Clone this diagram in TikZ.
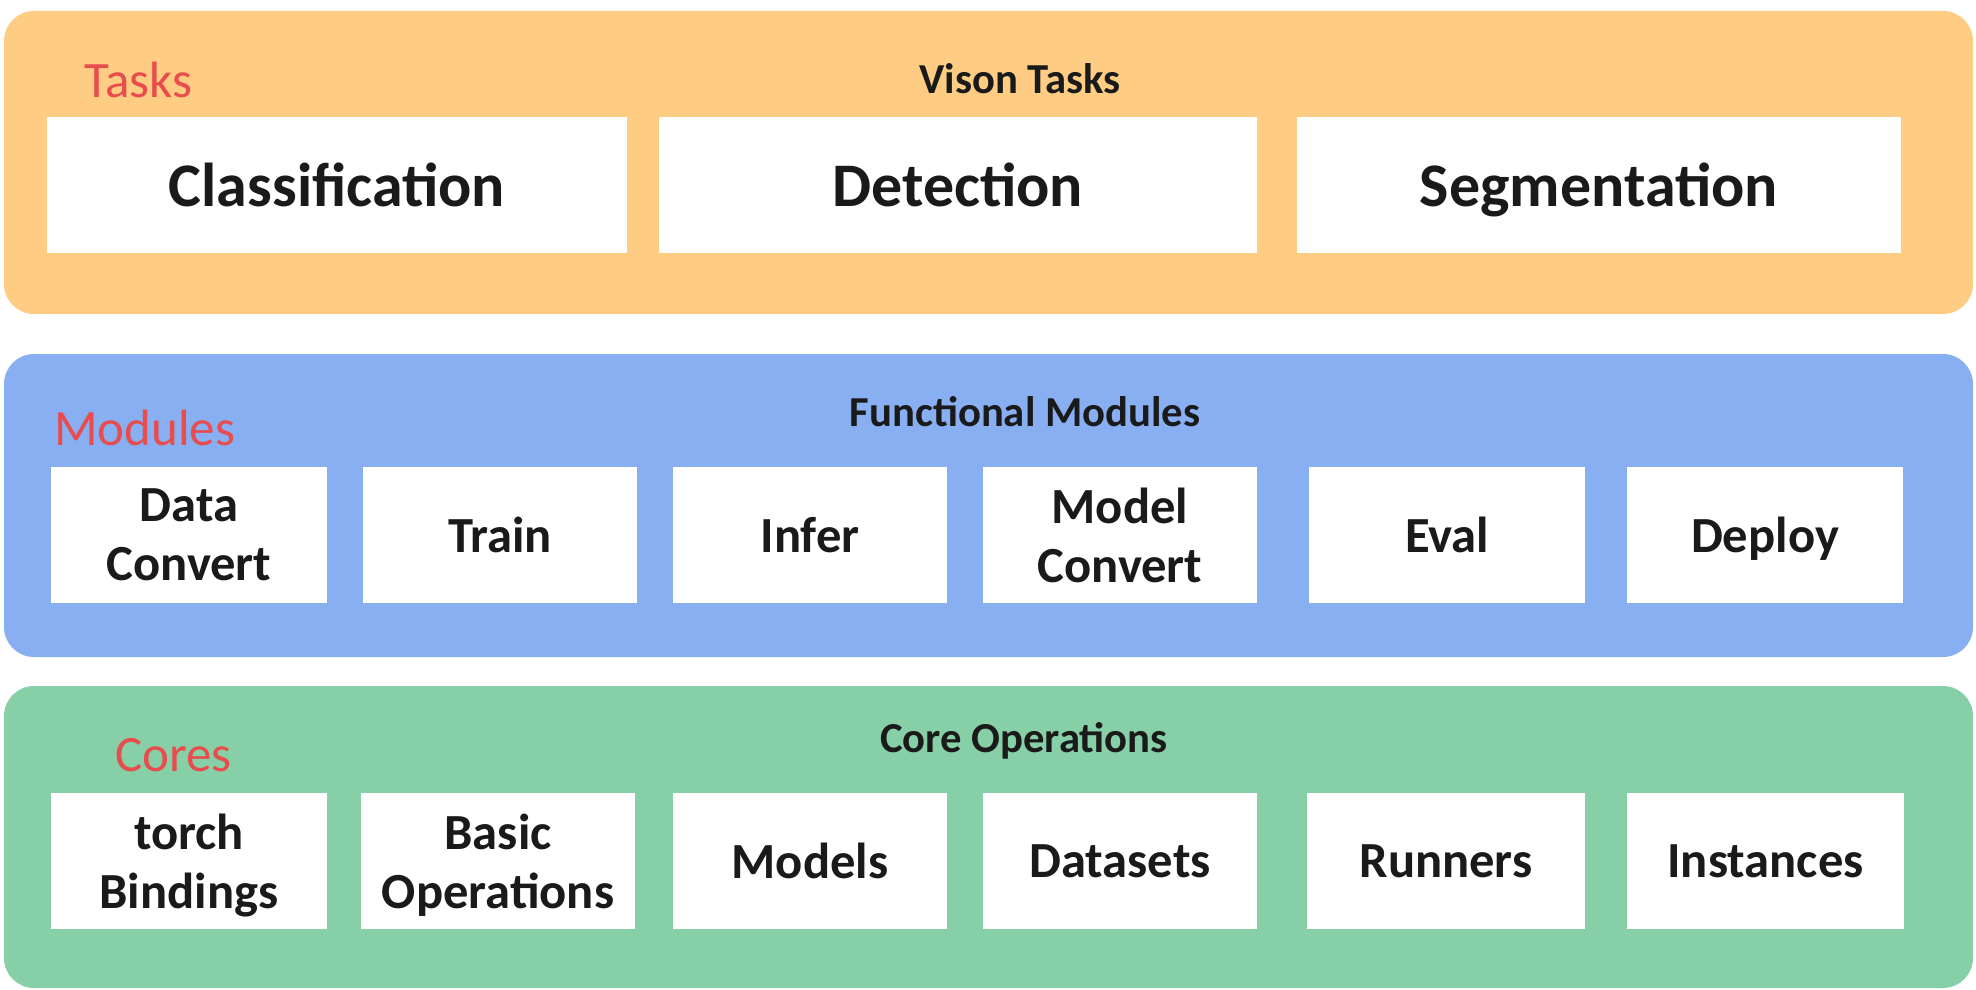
\documentclass[tikz,border=0pt]{standalone}
\usepackage{fontspec}
\setmainfont{Carlito}
\begin{document}
\definecolor{bandorange}{HTML}{FECC82}
\definecolor{bandblue}{HTML}{88AFF2}
\definecolor{bandgreen}{HTML}{87CFA6}
\definecolor{labelred}{HTML}{E84C4C}
\definecolor{ink}{HTML}{1A1A1A}
\begin{tikzpicture}[x=1pt,y=-1pt,
  band/.style={rounded corners=30pt,inner sep=0pt,outer sep=0pt},
  cell/.style={fill=white,inner sep=0pt,outer sep=0pt,minimum height=136pt,
    align=center,text depth=0pt,text=ink},
  bigcell/.style={cell,font=\bfseries\fontsize{62}{70}\selectfont},
  smallcell/.style={cell,font=\bfseries\fontsize{50.6}{59}\selectfont},
  header/.style={anchor=base,text=ink,inner sep=0pt,font=\bfseries\fontsize{42.7}{48}\selectfont},
  layername/.style={anchor=base west,text=labelred,inner sep=0pt,font=\fontsize{51}{58}\selectfont}]
\useasboundingbox (0,0) rectangle (1976,990);

% coloured layers
\node[band,fill=bandorange,minimum width=1969pt,minimum height=303pt] (tasksband) at (988.5,162.5) {};
\node[band,fill=bandblue,minimum width=1969pt,minimum height=303pt] (modband) at (988.5,505.5) {};
\node[band,fill=bandgreen,minimum width=1969pt,minimum height=302pt] (coreband) at (988.5,837) {};

% layer titles
\node[layername] (tasksname) at (84,97) {Tasks};
\node[header] (taskshead) at (1020,93) {Vison Tasks};
\node[layername] (modname) at (54,445) {Modules};
\node[header] (modhead) at (1025,426) {Functional Modules};
\node[layername] (corename) at (115,771) {Cores};
\node[header] (corehead) at (1024,752) {Core Operations};

% vision tasks
\node[bigcell,minimum width=580pt] (cls) at (337,185) {Classification};
\node[bigcell,minimum width=598pt] (det) at (958,185) {Detection};
\node[bigcell,minimum width=604pt] (seg) at (1599,185) {Segmentation};

% functional modules
\node[smallcell,minimum width=276pt] (dataconv) at (189,535) {Data\\Convert};
\node[smallcell,minimum width=274pt] (train) at (500,535) {Train};
\node[smallcell,minimum width=274pt] (infer) at (810,535) {Infer};
\node[smallcell,minimum width=274pt] (modelconv) at (1120,535) {Model\\Convert};
\node[smallcell,minimum width=276pt] (eval) at (1447,535) {Eval};
\node[smallcell,minimum width=276pt] (deploy) at (1765,535) {Deploy};

% core operations
\node[smallcell,minimum width=276pt] (torchb) at (189,861) {torch\\Bindings};
\node[smallcell,minimum width=274pt] (basicops) at (498,861) {Basic\\Operations};
\node[smallcell,minimum width=274pt] (models) at (810,861) {Models};
\node[smallcell,minimum width=274pt] (datasets) at (1120,861) {Datasets};
\node[smallcell,minimum width=278pt] (runners) at (1446,861) {Runners};
\node[smallcell,minimum width=277pt] (instances) at (1765.5,861) {Instances};
\end{tikzpicture}
\end{document}
